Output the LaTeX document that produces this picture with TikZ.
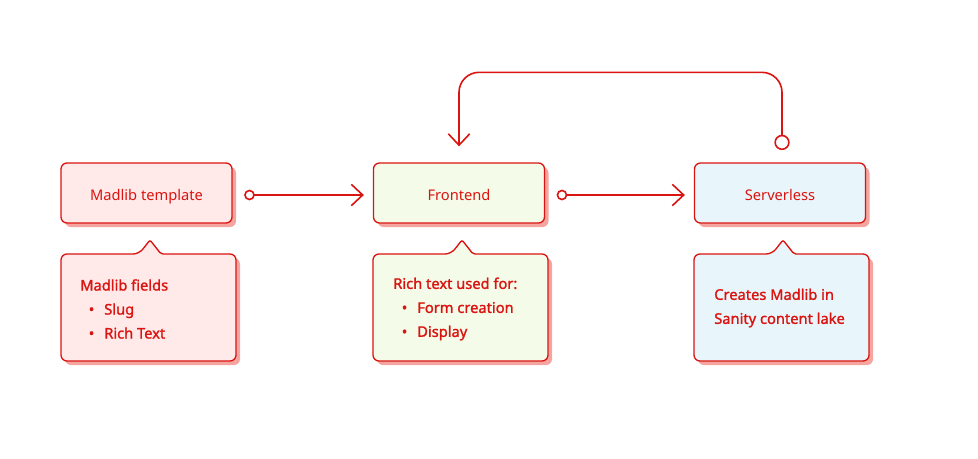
\documentclass[tikz,border=0pt]{standalone}
\usepackage{fontspec}
\setmainfont{Noto Sans}
\newfontfamily\medfont{Noto Sans}[FakeBold=1.4]
\usetikzlibrary{arrows.meta,shadows}
\definecolor{rd}{RGB}{218,20,16}
\definecolor{shd}{RGB}{245,165,160}
\definecolor{pinkf}{RGB}{255,233,233}
\definecolor{greenf}{RGB}{244,251,233}
\definecolor{bluef}{RGB}{232,246,252}
\tikzset{
  shad/.style={general shadow={fill=shd, shadow xshift=3pt, shadow yshift=-3pt}},
  mainbox/.style={draw=rd, line width=1pt, rounded corners=4.5pt, minimum width=128.25pt,
    minimum height=45pt, inner sep=0pt, text height=10.5pt, text depth=0pt,
    text=rd, font=\fontsize{11}{13}\selectfont, shad},
  bub/.style={draw=rd, line width=1pt, shad},
  bubtext/.style={anchor=west, align=left, inner sep=0pt, text=rd,
    font=\fontsize{11}{18}\selectfont\medfont},
  conn/.style={draw=rd, line width=1.2pt},
  smallcirc/.tip={Circle[open, length=8pt, line width=1.2pt]},
  bigcirc/.tip={Circle[open, length=11.5pt, line width=1.2pt]},
  barbtip/.tip={Straight Barb[length=8.5pt, width=16pt, line width=1.2pt]},
}
\newcommand\bubble[5]{%
  \draw[bub, fill=#5, rounded corners=4.5pt] ({#1+40},#2) -- ({#1+78},#2)
    [rounded corners=1.5pt] -- ({#1+89},{#2-14}) -- ({#1+100},#2)
    [rounded corners=4.5pt] -- (#3,#2) -- (#3,#4) -- (#1,#4) -- (#1,#2) -- cycle;}
\newcommand\bul[1]{\hspace*{6.4pt}\makebox[11.6pt][l]{•}#1}
\begin{document}
\begin{tikzpicture}[x=0.75pt, y=-0.75pt]
  \useasboundingbox (0,0) rectangle (978,458);
  % main boxes
  \node[mainbox, fill=pinkf] (mt) at (146.5,193) {Madlib template};
  \node[mainbox, fill=greenf] (fe) at (459,193) {Frontend};
  \node[mainbox, fill=bluef] (sv) at (780,193) {Serverless};
  % callouts
  \bubble{61}{254}{236}{361}{pinkf}
  \bubble{373}{254}{548}{361}{greenf}
  \bubble{694}{254}{869}{361}{bluef}
  \node[bubtext] (t1) at (80,309) {Madlib fields\\\bul{Slug}\\\bul{Rich Text}};
  \node[bubtext] (t2) at (393,309) {Rich text used for:\\\bul{Form creation}\\\bul{Display}};
  \node[bubtext] (t3) at (714,308) {Creates Madlib in\\Sanity content lake};
  % connectors
  \draw[conn, smallcirc-barbtip, shorten <=8.6pt, shorten >=6.75pt]
    ([yshift=-1.5pt]mt.east) -- ([yshift=-1.5pt]fe.west);
  \draw[conn, smallcirc-barbtip, shorten <=8.6pt, shorten >=6.75pt]
    ([yshift=-1.5pt]fe.east) -- ([yshift=-1.5pt]sv.west);
  \draw[conn, rounded corners=15pt, bigcirc-barbtip, shorten <=9.2pt, shorten >=12pt]
    ([xshift=1.5pt]sv.north) -- ++(0,-90) -| (fe.north);
\end{tikzpicture}
\end{document}
